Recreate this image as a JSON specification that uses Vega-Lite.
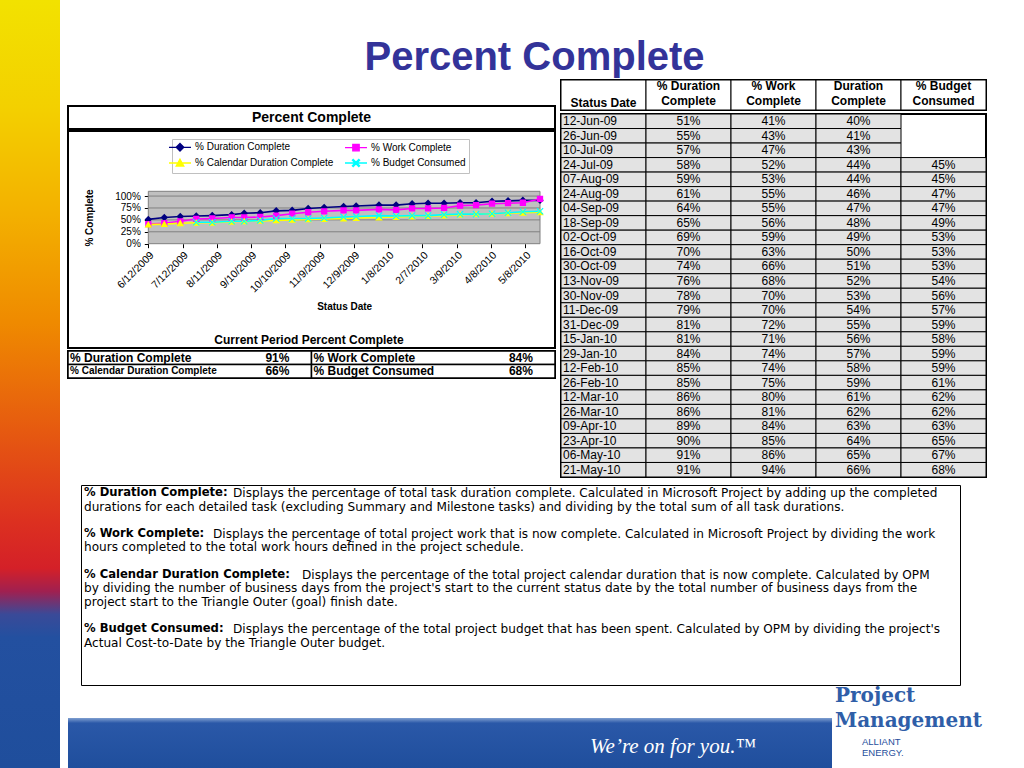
{
  "$schema": "https://vega.github.io/schema/vega-lite/v6.json",
  "background": "white",
  "padding": 0,
  "autosize": {"type": "pad"},
  "spacing": 6,
  "config": {
    "font": "Liberation Sans",
    "view": {"stroke": null},
    "text": {"font": "Liberation Sans", "color": "black"},
    "axis": {"labelFont": "Liberation Sans", "titleFont": "Liberation Sans"},
    "title": {"font": "Liberation Sans"},
    "legend": {
      "orient": "none", "legendX": 172, "legendY": 139, "columns": 2,
      "columnPadding": 8, "rowPadding": 2, "padding": 3,
      "strokeColor": "#c0c0c0", "fillColor": "white",
      "labelFont": "Liberation Sans", "labelFontSize": 10, "labelColor": "black",
      "labelLimit": 300, "symbolSize": 64, "labelOffset": 10, "symbolStrokeWidth": 1.3
    }
  },
  "datasets": {
    "rows": [
      {"date": "2009/06/12", "label": "12-Jun-09", "% Duration Complete": 0.51, "% Work Complete": 0.41, "% Calendar Duration Complete": 0.40, "% Budget Consumed": null},
      {"date": "2009/06/26", "label": "26-Jun-09", "% Duration Complete": 0.55, "% Work Complete": 0.43, "% Calendar Duration Complete": 0.41, "% Budget Consumed": null},
      {"date": "2009/07/10", "label": "10-Jul-09", "% Duration Complete": 0.57, "% Work Complete": 0.47, "% Calendar Duration Complete": 0.43, "% Budget Consumed": null},
      {"date": "2009/07/24", "label": "24-Jul-09", "% Duration Complete": 0.58, "% Work Complete": 0.52, "% Calendar Duration Complete": 0.44, "% Budget Consumed": 0.45},
      {"date": "2009/08/07", "label": "07-Aug-09", "% Duration Complete": 0.59, "% Work Complete": 0.53, "% Calendar Duration Complete": 0.44, "% Budget Consumed": 0.45},
      {"date": "2009/08/24", "label": "24-Aug-09", "% Duration Complete": 0.61, "% Work Complete": 0.55, "% Calendar Duration Complete": 0.46, "% Budget Consumed": 0.47},
      {"date": "2009/09/04", "label": "04-Sep-09", "% Duration Complete": 0.64, "% Work Complete": 0.55, "% Calendar Duration Complete": 0.47, "% Budget Consumed": 0.47},
      {"date": "2009/09/18", "label": "18-Sep-09", "% Duration Complete": 0.65, "% Work Complete": 0.56, "% Calendar Duration Complete": 0.48, "% Budget Consumed": 0.49},
      {"date": "2009/10/02", "label": "02-Oct-09", "% Duration Complete": 0.69, "% Work Complete": 0.59, "% Calendar Duration Complete": 0.49, "% Budget Consumed": 0.53},
      {"date": "2009/10/16", "label": "16-Oct-09", "% Duration Complete": 0.70, "% Work Complete": 0.63, "% Calendar Duration Complete": 0.50, "% Budget Consumed": 0.53},
      {"date": "2009/10/30", "label": "30-Oct-09", "% Duration Complete": 0.74, "% Work Complete": 0.66, "% Calendar Duration Complete": 0.51, "% Budget Consumed": 0.53},
      {"date": "2009/11/13", "label": "13-Nov-09", "% Duration Complete": 0.76, "% Work Complete": 0.68, "% Calendar Duration Complete": 0.52, "% Budget Consumed": 0.54},
      {"date": "2009/11/30", "label": "30-Nov-09", "% Duration Complete": 0.78, "% Work Complete": 0.70, "% Calendar Duration Complete": 0.53, "% Budget Consumed": 0.56},
      {"date": "2009/12/11", "label": "11-Dec-09", "% Duration Complete": 0.79, "% Work Complete": 0.70, "% Calendar Duration Complete": 0.54, "% Budget Consumed": 0.57},
      {"date": "2009/12/31", "label": "31-Dec-09", "% Duration Complete": 0.81, "% Work Complete": 0.72, "% Calendar Duration Complete": 0.55, "% Budget Consumed": 0.59},
      {"date": "2010/01/15", "label": "15-Jan-10", "% Duration Complete": 0.81, "% Work Complete": 0.71, "% Calendar Duration Complete": 0.56, "% Budget Consumed": 0.58},
      {"date": "2010/01/29", "label": "29-Jan-10", "% Duration Complete": 0.84, "% Work Complete": 0.74, "% Calendar Duration Complete": 0.57, "% Budget Consumed": 0.59},
      {"date": "2010/02/12", "label": "12-Feb-10", "% Duration Complete": 0.85, "% Work Complete": 0.74, "% Calendar Duration Complete": 0.58, "% Budget Consumed": 0.59},
      {"date": "2010/02/26", "label": "26-Feb-10", "% Duration Complete": 0.85, "% Work Complete": 0.75, "% Calendar Duration Complete": 0.59, "% Budget Consumed": 0.61},
      {"date": "2010/03/12", "label": "12-Mar-10", "% Duration Complete": 0.86, "% Work Complete": 0.80, "% Calendar Duration Complete": 0.61, "% Budget Consumed": 0.62},
      {"date": "2010/03/26", "label": "26-Mar-10", "% Duration Complete": 0.86, "% Work Complete": 0.81, "% Calendar Duration Complete": 0.62, "% Budget Consumed": 0.62},
      {"date": "2010/04/09", "label": "09-Apr-10", "% Duration Complete": 0.89, "% Work Complete": 0.84, "% Calendar Duration Complete": 0.63, "% Budget Consumed": 0.63},
      {"date": "2010/04/23", "label": "23-Apr-10", "% Duration Complete": 0.90, "% Work Complete": 0.85, "% Calendar Duration Complete": 0.64, "% Budget Consumed": 0.65},
      {"date": "2010/05/06", "label": "06-May-10", "% Duration Complete": 0.91, "% Work Complete": 0.86, "% Calendar Duration Complete": 0.65, "% Budget Consumed": 0.67},
      {"date": "2010/05/21", "label": "21-May-10", "% Duration Complete": 0.91, "% Work Complete": 0.94, "% Calendar Duration Complete": 0.66, "% Budget Consumed": 0.68}
    ],
    "current": [
      {"row": 1, "half": "L", "label": "% Duration Complete", "value": 0.91},
      {"row": 1, "half": "R", "label": "% Work Complete", "value": 0.84},
      {"row": 2, "half": "L", "label": "% Calendar Duration Complete", "value": 0.66},
      {"row": 2, "half": "R", "label": "% Budget Consumed", "value": 0.68}
    ],
    "header": [
      {"key": "Status Date", "head": "Status Date"},
      {"key": "% Duration Complete", "head": "% Duration\nComplete"},
      {"key": "% Work Complete", "head": "% Work\nComplete"},
      {"key": "% Calendar Duration Complete", "head": "Duration\nComplete"},
      {"key": "% Budget Consumed", "head": "% Budget\nConsumed"}
    ],
    "notes": [
      {"line": 0, "label": "% Duration Complete:", "text": "Displays the percentage of total task duration complete.  Calculated in Microsoft Project by adding up the completed"},
      {"line": 1, "text": "durations for each detailed task (excluding Summary and Milestone tasks) and dividing by the total sum of all task durations."},
      {"line": 3, "label": "% Work Complete:", "text": "Displays the percentage of total project work that is now complete.  Calculated in Microsoft Project by dividing the work"},
      {"line": 4, "text": "hours completed to the total work hours defined in the project schedule."},
      {"line": 6, "label": "% Calendar Duration Complete:", "text": "Displays the percentage of the total project calendar duration that is now complete.  Calculated by OPM"},
      {"line": 7, "text": "by dividing the number of business days from the project's start to the current status date by the total number of business days from the"},
      {"line": 8, "text": "project start to the Triangle Outer (goal) finish date."},
      {"line": 10, "label": "% Budget Consumed:", "text": "Displays the percentage of the total project budget that has been spent.  Calculated by OPM by dividing the project's"},
      {"line": 11, "text": "Actual Cost-to-Date by the Triangle Outer budget."}
    ]
  },
  "hconcat": [
    {
      "width": 60, "height": 768,
      "data": {"values": [{"k": 1}]},
      "mark": {"type": "rect", "fill": {"gradient": "linear", "x1": 0, "y1": 0, "x2": 0, "y2": 1, "stops": [
        {"offset": 0, "color": "#f2e200"}, {"offset": 0.14, "color": "#f3d000"}, {"offset": 0.28, "color": "#f3b000"},
        {"offset": 0.42, "color": "#ef8a00"}, {"offset": 0.56, "color": "#e65a10"}, {"offset": 0.68, "color": "#dc3020"},
        {"offset": 0.74, "color": "#d42028"}, {"offset": 0.77, "color": "#a02050"}, {"offset": 0.8, "color": "#3a4a98"},
        {"offset": 0.83, "color": "#2350a0"}, {"offset": 1, "color": "#1f4e9c"}]}},
      "encoding": {}
    },
    {
      "spacing": 0,
      "vconcat": [
        {
          "width": 921, "height": 78,
          "data": {"values": [{"t": "Percent Complete"}]},
          "mark": {"type": "text", "fontSize": 40, "fontWeight": "bold", "color": "#333399", "baseline": "alphabetic", "dx": 6, "dy": 31},
          "encoding": {"text": {"field": "t"}}
        },
        {
          "spacing": 2,
          "hconcat": [
            {
              "spacing": 0,
              "vconcat": [
                {"width": 487, "height": 25, "data": {"values": []}, "mark": "point"},
                {
                  "width": 487, "height": 23,
                  "view": {"stroke": "black", "strokeWidth": 2},
                  "data": {"values": [{"t": "Percent Complete"}]},
                  "mark": {"type": "text", "fontSize": 14, "fontWeight": "bold"},
                  "encoding": {"text": {"field": "t"}}
                },
                {
                  "width": 487, "height": 217,
                  "view": {"stroke": "black", "strokeWidth": 2},
                  "data": {"name": "rows"},
                  "layer": [
                    {
                      "transform": [
                        {"fold": ["% Duration Complete", "% Work Complete", "% Calendar Duration Complete", "% Budget Consumed"], "as": ["series", "value"]},
                        {"filter": "isValid(datum.value)"},
                        {"filter": {"field": "label", "oneOf": ["30-Oct-09", "13-Nov-09", "30-Nov-09"]}}
                      ],
                      "mark": {"type": "point", "filled": true, "size": 64, "opacity": 1, "strokeWidth": 1.3},
                      "encoding": {
                        "x": {"field": "date", "type": "temporal",
                          "scale": {"domain": [{"year": 2009, "month": 6, "date": 12}, {"year": 2010, "month": 5, "date": 21}], "range": [80.3, 472]},
                          "axis": {"orient": "bottom", "offset": -104.3,
                            "values": [{"year": 2009, "month": 6, "date": 12}, {"year": 2009, "month": 7, "date": 12}, {"year": 2009, "month": 8, "date": 11}, {"year": 2009, "month": 9, "date": 10}, {"year": 2009, "month": 10, "date": 10}, {"year": 2009, "month": 11, "date": 9}, {"year": 2009, "month": 12, "date": 9}, {"year": 2010, "month": 1, "date": 8}, {"year": 2010, "month": 2, "date": 7}, {"year": 2010, "month": 3, "date": 9}, {"year": 2010, "month": 4, "date": 8}, {"year": 2010, "month": 5, "date": 8}],
                            "format": "%-m/%-d/%Y", "labelAngle": -45, "labelFontSize": 10.5, "labelColor": "black",
                            "labelOverlap": false, "labelFlush": false, "labelBound": false, "labelPadding": 2,
                            "tickSize": 4, "tickColor": "black", "domain": false, "grid": false,
                            "title": "Status Date", "titleFontSize": 10, "titleFontWeight": "bold", "titleColor": "black", "titlePadding": 7}},
                        "y": {"field": "value", "type": "quantitative",
                          "scale": {"domain": [0, 1.1], "range": [112.7, 60.3], "nice": false, "zero": false},
                          "axis": {"orient": "left", "offset": -80.3, "values": [0, 0.25, 0.5, 0.75, 1], "format": ".0%",
                            "labelFontSize": 10, "labelColor": "black", "labelPadding": 4, "tickSize": 4, "tickColor": "black",
                            "domain": false, "grid": false, "title": "% Complete", "titleFontSize": 10,
                            "titleFontWeight": "bold", "titleColor": "black", "titlePadding": 20}},
                        "color": {"field": "series", "type": "nominal", "scale": {"domain": ["% Duration Complete", "% Calendar Duration Complete", "% Work Complete", "% Budget Consumed"], "range": ["#000080", "#ffff00", "#ff00ff", "#00ffff"]}, "legend": {"title": null}},
                        "stroke": {"field": "series", "type": "nominal", "scale": {"domain": ["% Duration Complete", "% Calendar Duration Complete", "% Work Complete", "% Budget Consumed"], "range": ["#000080", "#ffff00", "#ff00ff", "#00ffff"]}, "legend": {"title": null}},
                        "shape": {"field": "series", "type": "nominal", "scale": {"domain": ["% Duration Complete", "% Calendar Duration Complete", "% Work Complete", "% Budget Consumed"], "range": [
                          "M-2.75,0H2.75M0,-0.95L0.95,0L0,0.95L-0.95,0Z",
                          "M-2.75,0H2.75M0,-0.95L0.95,0.75H-0.95Z",
                          "M-2.75,0H2.75M-0.8,-0.8H0.8V0.8H-0.8Z",
                          "M-2.75,0H2.75M-0.9,-0.7L-0.7,-0.9L0,-0.2L0.7,-0.9L0.9,-0.7L0.2,0L0.9,0.7L0.7,0.9L0,0.2L-0.7,0.9L-0.9,0.7L-0.2,0Z"]}, "legend": {"title": null}}
                      }
                    },
                    {
                      "data": {"values": [{"k": 1}]},
                      "mark": {"type": "rect", "fill": "#c0c0c0", "stroke": "#808080", "strokeWidth": 1},
                      "encoding": {
                        "x": {"datum": {"year": 2009, "month": 6, "date": 12}, "type": "temporal"},
                        "x2": {"datum": {"year": 2010, "month": 5, "date": 21}},
                        "y": {"datum": 0, "type": "quantitative"},
                        "y2": {"datum": 1.1}
                      }
                    },
                    {
                      "data": {"values": [{"k": 1}]},
                      "mark": {"type": "rule", "color": "#808080", "strokeWidth": 1},
                      "encoding": {"x": {"datum": {"year": 2009, "month": 6, "date": 12}, "type": "temporal"}, "x2": {"datum": {"year": 2010, "month": 5, "date": 21}}, "y": {"datum": 0.25, "type": "quantitative"}}
                    },
                    {
                      "data": {"values": [{"k": 1}]},
                      "mark": {"type": "rule", "color": "#808080", "strokeWidth": 1},
                      "encoding": {"x": {"datum": {"year": 2009, "month": 6, "date": 12}, "type": "temporal"}, "x2": {"datum": {"year": 2010, "month": 5, "date": 21}}, "y": {"datum": 0.5, "type": "quantitative"}}
                    },
                    {
                      "data": {"values": [{"k": 1}]},
                      "mark": {"type": "rule", "color": "#808080", "strokeWidth": 1},
                      "encoding": {"x": {"datum": {"year": 2009, "month": 6, "date": 12}, "type": "temporal"}, "x2": {"datum": {"year": 2010, "month": 5, "date": 21}}, "y": {"datum": 0.75, "type": "quantitative"}}
                    },
                    {
                      "data": {"values": [{"k": 1}]},
                      "mark": {"type": "rule", "color": "#808080", "strokeWidth": 1},
                      "encoding": {"x": {"datum": {"year": 2009, "month": 6, "date": 12}, "type": "temporal"}, "x2": {"datum": {"year": 2010, "month": 5, "date": 21}}, "y": {"datum": 1, "type": "quantitative"}}
                    },
                    {
                      "transform": [
                        {"fold": ["% Duration Complete", "% Work Complete", "% Calendar Duration Complete", "% Budget Consumed"], "as": ["series", "value"]},
                        {"filter": "isValid(datum.value)"}
                      ],
                      "mark": {"type": "line", "strokeWidth": 1.6},
                      "encoding": {
                        "x": {"field": "date", "type": "temporal"},
                        "y": {"field": "value", "type": "quantitative"},
                        "stroke": {"field": "series", "type": "nominal", "scale": {"domain": ["% Duration Complete", "% Calendar Duration Complete", "% Work Complete", "% Budget Consumed"], "range": ["#000080", "#ffff00", "#ff00ff", "#00ffff"]}, "legend": {"title": null}}
                      }
                    },
                    {
                      "transform": [
                        {"fold": ["% Duration Complete", "% Work Complete", "% Calendar Duration Complete", "% Budget Consumed"], "as": ["series", "value"]},
                        {"filter": "isValid(datum.value)"}
                      ],
                      "mark": {"type": "point", "filled": true, "size": 62, "opacity": 1},
                      "encoding": {
                        "x": {"field": "date", "type": "temporal"},
                        "y": {"field": "value", "type": "quantitative"},
                        "color": {"field": "series", "type": "nominal", "scale": {"domain": ["% Duration Complete", "% Calendar Duration Complete", "% Work Complete", "% Budget Consumed"], "range": ["#000080", "#ffff00", "#ff00ff", "#00ffff"]}, "legend": {"title": null}},
                        "shape": {"field": "series", "type": "nominal", "scale": {"domain": ["% Duration Complete", "% Calendar Duration Complete", "% Work Complete", "% Budget Consumed"]}, "legend": {"title": null}}
                      }
                    },
                    {
                      "data": {"values": [{"t": "Current Period Percent Complete"}]},
                      "mark": {"type": "text", "fontSize": 12, "fontWeight": "bold", "dx": -2.5, "dy": 100},
                      "encoding": {"text": {"field": "t"}}
                    }
                  ]
                },
                {
                  "width": 487, "height": 27,
                  "view": {"stroke": "black", "strokeWidth": 2},
                  "data": {"name": "current"},
                  "encoding": {"y": {"field": "row", "type": "ordinal", "scale": {"paddingInner": 0, "paddingOuter": 0}, "axis": null}},
                  "layer": [
                    {"mark": {"type": "rect", "fill": "white", "stroke": "black", "strokeWidth": 1.5},
                     "encoding": {"x": {"field": "half", "type": "nominal", "scale": {"paddingInner": 0, "paddingOuter": 0}, "axis": null}}},
                    {"mark": {"type": "text", "align": "left", "dx": 2, "fontWeight": "bold", "fontSize": 12},
                     "encoding": {"x": {"field": "half", "type": "nominal", "bandPosition": 0}, "text": {"field": "label"},
                       "size": {"condition": {"test": "datum.label === '% Calendar Duration Complete'", "value": 10}, "value": 12}}},
                    {"mark": {"type": "text", "fontWeight": "bold", "fontSize": 12},
                     "encoding": {"x": {"field": "half", "type": "nominal", "bandPosition": 0.86}, "text": {"field": "value", "type": "quantitative", "format": ".0%"}}}
                  ]
                }
              ]
            },
            {
              "spacing": 0,
              "vconcat": [
                {
                  "width": 425, "height": 30,
                  "view": {"stroke": "black", "strokeWidth": 2},
                  "data": {"name": "header"},
                  "encoding": {"x": {"field": "key", "type": "nominal", "scale": {"domain": ["Status Date", "% Duration Complete", "% Work Complete", "% Calendar Duration Complete", "% Budget Consumed"], "paddingInner": 0, "paddingOuter": 0}, "axis": null}},
                  "layer": [
                    {"mark": {"type": "rect", "fill": "white", "stroke": "black", "strokeWidth": 1}},
                    {"transform": [{"filter": "datum.key !== 'Status Date'"}],
                     "mark": {"type": "text", "fontWeight": "bold", "fontSize": 12, "lineBreak": "\n", "baseline": "top", "lineHeight": 15, "dy": -14},
                     "encoding": {"text": {"field": "head"}}},
                    {"transform": [{"filter": "datum.key === 'Status Date'"}],
                     "mark": {"type": "text", "fontWeight": "bold", "fontSize": 12, "baseline": "middle", "dy": 8},
                     "encoding": {"text": {"field": "head"}}}
                  ]
                },
                {
                  "width": 425, "height": 363,
                  "view": {"stroke": "black", "strokeWidth": 2},
                  "data": {"name": "rows"},
                  "encoding": {"y": {"field": "label", "type": "ordinal", "sort": null, "scale": {"paddingInner": 0, "paddingOuter": 0}, "axis": null}},
                  "layer": [
                    {"mark": {"type": "rect", "fill": "#e3e3e3", "stroke": "black", "strokeWidth": 1},
                     "encoding": {"x": {"datum": "Status Date", "type": "nominal", "scale": {"domain": ["Status Date", "% Duration Complete", "% Work Complete", "% Calendar Duration Complete", "% Budget Consumed"], "paddingInner": 0, "paddingOuter": 0}, "axis": null}}},
                    {"mark": {"type": "text", "align": "left", "dx": 2, "fontSize": 12},
                     "encoding": {"x": {"datum": "Status Date", "type": "nominal", "bandPosition": 0}, "text": {"field": "label"}}},
                    {
                      "transform": [
                        {"fold": ["% Duration Complete", "% Work Complete", "% Calendar Duration Complete", "% Budget Consumed"], "as": ["key", "value"]},
                        {"filter": "isValid(datum.value)"}
                      ],
                      "layer": [
                        {"mark": {"type": "rect", "fill": "#e3e3e3", "stroke": "black", "strokeWidth": 1},
                         "encoding": {"x": {"field": "key", "type": "nominal"}}},
                        {"mark": {"type": "text", "fontSize": 12},
                         "encoding": {"x": {"field": "key", "type": "nominal"}, "text": {"field": "value", "type": "quantitative", "format": ".0%"}}}
                      ]
                    }
                  ]
                }
              ]
            }
          ]
        },
        {"width": 921, "height": 5, "data": {"values": []}, "mark": "point"},
        {
          "spacing": 8,
          "hconcat": [
            {"width": 4, "height": 200, "data": {"values": []}, "mark": "point"},
            {
              "width": 879, "height": 200,
              "view": {"stroke": "black", "strokeWidth": 1},
              "data": {"name": "notes"},
              "encoding": {
                "x": {"datum": 0, "type": "quantitative", "scale": {"domain": [0, 1]}, "axis": null},
                "y": {"field": "line", "type": "quantitative", "scale": {"domain": [-0.58, 14.09], "reverse": true, "nice": false, "zero": false}, "axis": null}
              },
              "layer": [
                {"transform": [{"filter": "!datum.label"}],
                 "mark": {"type": "text", "align": "left", "dx": 3, "font": "DejaVu Sans", "fontSize": 12.1},
                 "encoding": {"text": {"field": "text"}}},
                {"transform": [{"filter": "datum.label"}],
                 "mark": {"type": "text", "align": "left", "dx": 3, "font": "DejaVu Sans", "fontWeight": "bold", "fontSize": 11.6},
                 "encoding": {"text": {"field": "label"}}},
                {"transform": [{"filter": "datum.line === 0"}],
                 "mark": {"type": "text", "align": "left", "dx": 152, "font": "DejaVu Sans", "fontSize": 12.1},
                 "encoding": {"text": {"field": "text"}}},
                {"transform": [{"filter": "datum.line === 3"}],
                 "mark": {"type": "text", "align": "left", "dx": 132, "font": "DejaVu Sans", "fontSize": 12.1},
                 "encoding": {"text": {"field": "text"}}},
                {"transform": [{"filter": "datum.line === 6"}],
                 "mark": {"type": "text", "align": "left", "dx": 221, "font": "DejaVu Sans", "fontSize": 12.1},
                 "encoding": {"text": {"field": "text"}}},
                {"transform": [{"filter": "datum.line === 10"}],
                 "mark": {"type": "text", "align": "left", "dx": 152, "font": "DejaVu Sans", "fontSize": 12.1},
                 "encoding": {"text": {"field": "text"}}}
              ]
            }
          ]
        },
        {
          "spacing": 3,
          "hconcat": [
            {
              "spacing": 0,
              "vconcat": [
                {"width": 764, "height": 32, "data": {"values": []}, "mark": "point"},
                {
                  "width": 764, "height": 51,
                  "data": {"values": [{"t": "We’re on for you.™"}]},
                  "layer": [
                    {"mark": {"type": "rect", "fill": {"gradient": "linear", "x1": 0, "y1": 0, "x2": 0, "y2": 1, "stops": [{"offset": 0, "color": "#7f9fd0"}, {"offset": 0.1, "color": "#2a58a8"}, {"offset": 1, "color": "#1f4e9c"}]}},
                     "encoding": {}},
                    {"mark": {"type": "text", "font": "Liberation Serif", "fontStyle": "italic", "fontSize": 21, "color": "white", "dx": 223, "dy": 3},
                     "encoding": {"text": {"field": "t"}}}
                  ]
                }
              ]
            },
            {
              "width": 164, "height": 83,
              "encoding": {"x": {"datum": 0, "type": "quantitative", "scale": {"domain": [0, 1]}, "axis": null}},
              "layer": [
                {"data": {"values": [{"t": "Project"}]},
                 "mark": {"type": "text", "align": "left", "baseline": "alphabetic", "dy": -25.5, "font": "DejaVu Serif", "fontWeight": "bold", "fontSize": 20, "color": "#2f5ea8"},
                 "encoding": {"text": {"field": "t"}}},
                {"data": {"values": [{"t": "Management"}]},
                 "mark": {"type": "text", "align": "left", "baseline": "alphabetic", "dy": -1, "font": "DejaVu Serif", "fontWeight": "bold", "fontSize": 20, "color": "#2f5ea8"},
                 "encoding": {"text": {"field": "t"}}},
                {"data": {"values": [{"t": "ALLIANT"}]},
                 "mark": {"type": "text", "align": "left", "baseline": "alphabetic", "dx": 27, "dy": 17, "fontSize": 9.5, "color": "#1f4e9c"},
                 "encoding": {"text": {"field": "t"}}},
                {"data": {"values": [{"t": "ENERGY."}]},
                 "mark": {"type": "text", "align": "left", "baseline": "alphabetic", "dx": 27, "dy": 28, "fontSize": 9.5, "color": "#1f4e9c"},
                 "encoding": {"text": {"field": "t"}}}
              ]
            }
          ]
        }
      ]
    }
  ]
}
